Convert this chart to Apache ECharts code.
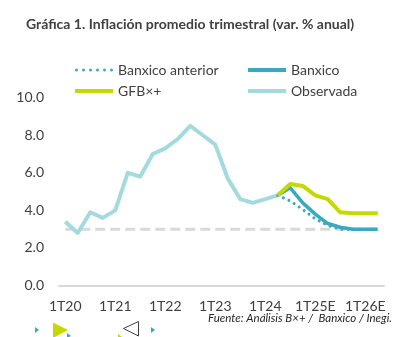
<!DOCTYPE html>
<html>
<head>
<meta charset="utf-8">
<script src="https://cdn.jsdelivr.net/npm/echarts@6/dist/echarts.min.js"></script>
<style>
html,body{margin:0;padding:0;background:#fff;}
#c{width:411px;height:337px;}
</style>
</head>
<body>
<div id="c"></div>
<script>
// ---- data ----
var categories = ['1T20','2T20','3T20','4T20','1T21','2T21','3T21','4T21','1T22','2T22','3T22','4T22',
  '1T23','2T23','3T23','4T23','1T24','2T24','3T24E','4T24E','1T25E','2T25E','3T25E','4T25E','1T26E','2T26E'];
var observada = [3.4,2.8,3.9,3.6,4.0,6.0,5.8,7.0,7.3,7.8,8.5,8.0,7.5,5.7,4.6,4.4,4.6,4.8];
var banxicoAnterior = [null,null,null,null,null,null,null,null,null,null,null,null,null,null,null,null,null,
  4.8,4.5,4.05,3.55,3.2,3.0,3.0,3.0,3.0];
var banxico = [null,null,null,null,null,null,null,null,null,null,null,null,null,null,null,null,null,
  4.8,5.2,4.4,3.8,3.3,3.1,3.0,3.0,3.0];
var gfb = [null,null,null,null,null,null,null,null,null,null,null,null,null,null,null,null,null,
  4.8,5.4,5.3,4.8,4.6,3.9,3.85,3.85,3.85];
var meta = [3,3,3,3,3,3,3,3,3,3,3,3,3,3,3,3,3,3,3,3,3,3,3,3,3,3];
var xTickLabels = {0:'1T20',4:'1T21',8:'1T22',12:'1T23',16:'1T24',20:'1T25E',24:'1T26E'};

var FONT = 'Lato';
var chart = echarts.init(document.getElementById('c'), null, {renderer:'canvas'});

// dotted legend icon: 6 round dots
var dotPath = 'path://';
for (var k = 0; k < 6; k++) {
  var cx = 1.5 + k * 7;
  dotPath += 'M' + (cx - 1.5) + ',1.5 a1.5,1.5 0 1,0 3,0 a1.5,1.5 0 1,0 -3,0 Z ';
}

function leg(name, left, top, icon, h){
  return {
    data:[{name:name, icon:icon}], left:left, top:top, padding:0,
    itemWidth:38, itemHeight:h, itemGap:0,
    textStyle:{fontFamily:FONT, fontSize:14, color:'#404040', lineHeight:16},
    selectedMode:false
  };
}

chart.setOption({
  backgroundColor:'#ffffff',
  animation:false,
  title:[{
    text:'Gráfica 1. Inflación promedio trimestral (var. % anual)',
    left:26, top:17, padding:0,
    textStyle:{fontFamily:FONT, fontWeight:'bold', fontSize:14, color:'#404040'}
  },{
    text:'Fuente: Análisis B×+ /  Banxico / Inegi.',
    right:19, top:312, padding:0,
    textStyle:{fontFamily:FONT, fontStyle:'italic', fontWeight:'normal', fontSize:11.5, color:'#262626'}
  }],
  legend:[
    leg('Banxico anterior',75,62,dotPath,3),
    leg('Banxico',248,62,'rect',4),
    leg('GFB×+',75,83,'rect',4),
    leg('Observada',248,83,'rect',4)
  ],
  grid:{left:59, right:27, top:97.7, bottom:51.5, containLabel:false},
  xAxis:{
    type:'category', data:categories, boundaryGap:true,
    axisLine:{show:true, lineStyle:{color:'#d9d9d9', width:2}},
    axisTick:{show:false},
    axisLabel:{
      interval:0, margin:14,
      fontFamily:FONT, fontSize:14, color:'#404040',
      formatter:function(v,i){ return xTickLabels[i] !== undefined ? xTickLabels[i] : ''; }
    },
    splitLine:{show:false}
  },
  yAxis:{
    type:'value', min:0, max:10, interval:2,
    axisLine:{show:false}, axisTick:{show:false},
    splitLine:{show:false},
    axisLabel:{margin:15, fontFamily:FONT, fontSize:14, color:'#404040',
      formatter:function(v){ return v.toFixed(1); }}
  },
  series:[
    {name:'Meta', type:'line', data:meta, symbol:'none', silent:true,
      lineStyle:{color:'#d9d9d9', width:3, type:[10,5]}, z:1},
    {name:'Observada', type:'line', data:observada, symbol:'none',
      lineStyle:{color:'#a3dade', width:4, join:'round'}, itemStyle:{color:'#a3dade'}, z:2},
    {name:'Banxico anterior', type:'line', data:banxicoAnterior, symbol:'none',
      lineStyle:{color:'#3aa9c0', width:3, type:[0.1,6], cap:'round'}, itemStyle:{color:'#3aa9c0'}, z:3},
    {name:'Banxico', type:'line', data:banxico, symbol:'none',
      lineStyle:{color:'#3aa9c0', width:3.5, join:'round'}, itemStyle:{color:'#3aa9c0'}, z:4},
    {name:'GFB×+', type:'line', data:gfb, symbol:'none',
      lineStyle:{color:'#c5d800', width:4, join:'round'}, itemStyle:{color:'#c5d800'}, z:5}
  ],
  graphic:[
    {type:'polygon', shape:{points:[[35,327],[35,333],[39,330]]}, style:{fill:'#3aa9c0'}},
    {type:'polygon', shape:{points:[[53,322.5],[53,338],[68,330]]}, style:{fill:'#c5d800'}},
    {type:'polygon', shape:{points:[[67,333],[67,338],[71,336]]}, style:{fill:'#3aa9c0'}},
    {type:'polygon', shape:{points:[[123.5,328.5],[138.5,321.5],[138.5,336]]}, style:{fill:'none', stroke:'#404040', lineWidth:1}},
    {type:'polygon', shape:{points:[[118,334],[118,338],[122,337]]}, style:{fill:'#c5d800'}},
    {type:'polygon', shape:{points:[[151,327],[151,333],[155,330]]}, style:{fill:'#3aa9c0'}}
  ]
});
</script>
</body>
</html>
